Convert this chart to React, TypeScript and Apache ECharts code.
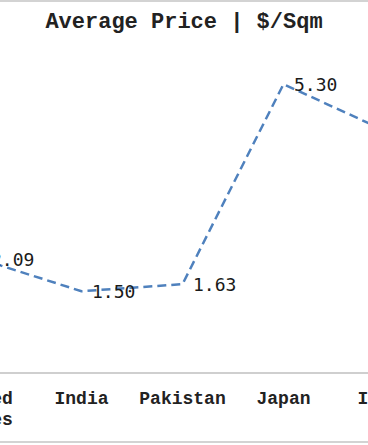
import React, { useEffect, useRef } from "react";
import * as echarts from "echarts";

const categories = ["United\nStates", "India", "Pakistan", "Japan", "Italy"];
const values = [2.09, 1.5, 1.63, 5.3, 4.45];
const titleText = "Average Price | $/Sqm";

const OFFSET = 100;
const W = 568;
const H = 445;

export default function App() {
  const ref = useRef<HTMLDivElement>(null);
  useEffect(() => {
    if (!ref.current) return;
    const chart = echarts.init(ref.current, null, { renderer: "svg" });
    const mono = "'Courier New', 'Liberation Mono', monospace";
    chart.setOption({
      animation: false,
      backgroundColor: "#ffffff",
      title: {
        text: titleText,
        left: "center",
        top: 6,
        textStyle: {
          fontFamily: mono,
          fontWeight: "bold",
          fontSize: 22,
          color: "#222222",
        },
      },
      grid: {
        left: 30,
        right: 33,
        top: 46,
        bottom: 72,
        containLabel: false,
        outerBoundsMode: "none",
      },
      xAxis: {
        type: "category",
        data: categories,
        boundaryGap: true,
        axisLine: { show: true, lineStyle: { color: "#cfcfcf", width: 2 } },
        axisTick: { show: false },
        splitLine: { show: false },
        axisLabel: {
          interval: 0,
          margin: 15,
          fontFamily: mono,
          fontWeight: "bold",
          fontSize: 18,
          lineHeight: 21,
          color: "#222222",
          align: "center",
        },
      },
      yAxis: {
        type: "value",
        min: 0,
        max: 6,
        show: false,
        splitLine: { show: false },
      },
      series: [
        {
          type: "line",
          data: values,
          showSymbol: true,
          symbol: "circle",
          symbolSize: 1,
          itemStyle: { color: "rgba(0,0,0,0)", borderWidth: 0 },
          lineStyle: { color: "#4f81bd", width: 2.5, type: [9, 5] },
          label: {
            show: true,
            position: "right",
            distance: 10,
            fontFamily: "'DejaVu Sans Mono', monospace",
            fontSize: 18,
            color: "#1a1a1a",
            formatter: (p: any) => Number(p.value).toFixed(2),
          },
        },
      ],
      graphic: [
        {
          type: "rect",
          shape: { x: 0, y: 0, width: W, height: 2 },
          style: { fill: "#d3d3d3" },
          silent: true,
        },
        {
          type: "rect",
          shape: { x: 0, y: 441, width: W, height: 2 },
          style: { fill: "#d3d3d3" },
          silent: true,
        },
      ],
    });
    return () => chart.dispose();
  }, []);
  return (
    <div
      style={{
        position: "fixed",
        left: 0,
        top: 0,
        width: 368,
        height: H,
        overflow: "hidden",
        background: "#fff",
      }}
    >
      <div
        ref={ref}
        style={{ position: "absolute", left: -OFFSET, top: 0, width: W, height: H }}
      />
    </div>
  );
}
